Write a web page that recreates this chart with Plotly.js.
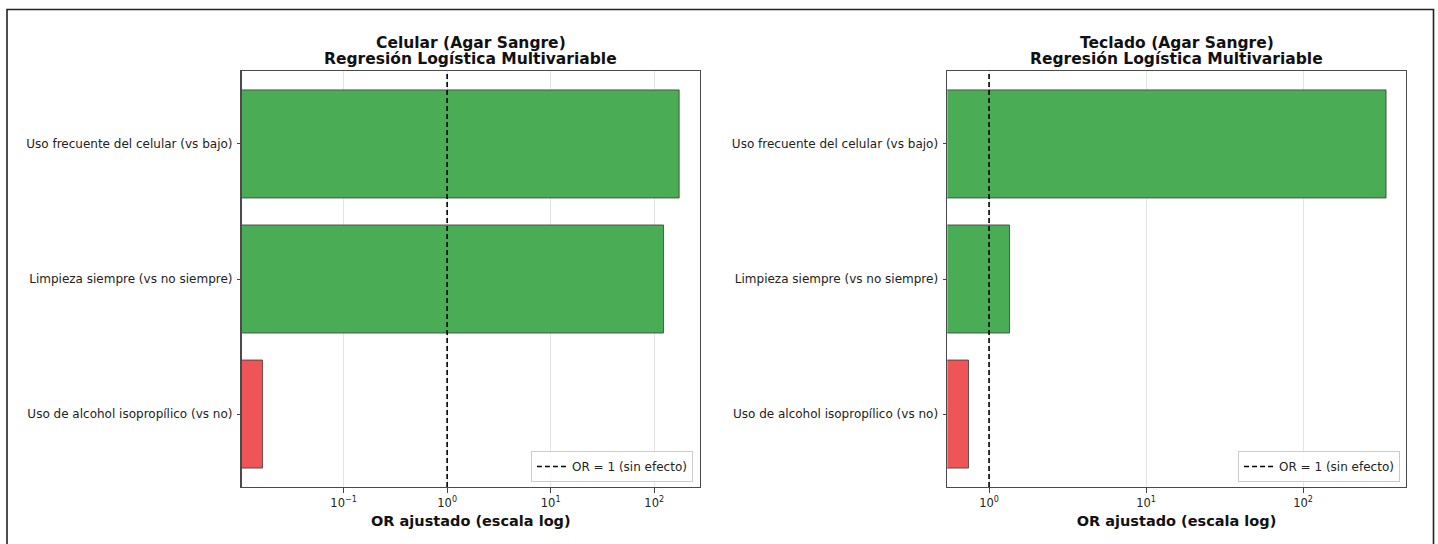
<!DOCTYPE html>
<html>
<head>
<meta charset="utf-8">
<script src="https://cdn.plot.ly/plotly-3.0.1.min.js"></script>
<style>
  html, body { margin: 0; padding: 0; background: #ffffff; }
  #chart { width: 1438px; height: 544px; }
</style>
</head>
<body>
<div id="chart"></div>
<script>
// Predictors of the multivariable logistic regression (top to bottom)
const factores = [
  'Uso frecuente del celular (vs bajo)',
  'Limpieza siempre (vs no siempre)',
  'Uso de alcohol isopropílico (vs no)'
];

// Adjusted odds ratios per surface
const orCelular = [174, 123, 0.0165];
const orTeclado = [338, 1.35, 0.74];

// Reference value: no effect
const orReferencia = 1;

const panelTitles = [
  ['Celular (Agar Sangre)', 'Regresión Logística Multivariable'],
  ['Teclado (Agar Sangre)', 'Regresión Logística Multivariable']
];
const xTitle = 'OR ajustado (escala log)';
const refLabel = 'OR = 1 (sin efecto)';

const tickValsLeft = [0.1, 1, 10, 100];
const tickTextLeft = ['10<sup>−1</sup>', '10<sup>0</sup>', '10<sup>1</sup>', '10<sup>2</sup>'];
const tickValsRight = [1, 10, 100];
const tickTextRight = ['10<sup>0</sup>', '10<sup>1</sup>', '10<sup>2</sup>'];

const GREEN = '#4bac56';
const RED = '#ef5456';
const colorFor = v => v >= orReferencia ? GREEN : RED;

const W = 1438, H = 544;
const px = x => x / W;
const py = y => 1 - y / H;

const FONT = 'DejaVu Sans, sans-serif';
const TXT = '#222222';

const leftRange = [-1.984, 2.442];
const rightRange = [-0.266, 2.654];

// minor log ticks: 2..9 times each decade
function minorLogTicks(fromExp, toExp) {
  const out = [];
  for (let e = fromExp; e <= toExp; e++) {
    for (let m = 2; m <= 9; m++) out.push(m * Math.pow(10, e));
  }
  return out;
}

function barTrace(values, xa, ya) {
  return {
    type: 'bar',
    orientation: 'h',
    y: factores,
    x: values,
    xaxis: xa,
    yaxis: ya,
    width: 0.8,
    marker: { color: values.map(colorFor), line: { color: '#3a3a3a', width: 0.8 } },
    showlegend: false,
    hoverinfo: 'x+y'
  };
}

function refTrace(xa, ya, legendId) {
  return {
    type: 'scatter',
    mode: 'lines',
    x: [orReferencia, orReferencia],
    y: [0, 1],
    xaxis: xa,
    yaxis: ya,
    name: refLabel,
    legend: legendId,
    line: { color: '#000000', width: 1.6, dash: '5px,3px' }
  };
}

const data = [
  barTrace(orCelular, 'x', 'y'),
  refTrace('x', 'y3', 'legend'),
  barTrace(orTeclado, 'x2', 'y2'),
  refTrace('x2', 'y4', 'legend2')
];

const yDomain = [py(487), py(71)];
const leftDom = [px(241.7), px(700)];
const rightDom = [px(947.3), px(1405.7)];

function xAxis(dom, range, tv, tt, anchor) {
  return {
    type: 'log',
    domain: dom,
    range: range,
    anchor: anchor,
    tickmode: 'array',
    tickvals: tv,
    ticktext: tt,
    ticks: 'outside',
    ticklen: 4.5,
    tickwidth: 1,
    tickcolor: '#444',
    showgrid: true,
    gridcolor: '#e4e4e4',
    gridwidth: 1,
    zeroline: false,
    showline: true,
    linecolor: '#4a4a4a',
    linewidth: 1.3,
    mirror: true,
    tickfont: { family: FONT, size: 11.5, color: TXT },
    title: { text: xTitle, font: { family: FONT, size: 14.5, color: '#111', weight: 'bold' }, standoff: 7 }
  };
}

// overlay axis that only carries the small unlabeled log ticks
function minorAxis(over, anchor, range) {
  return {
    type: 'log',
    overlaying: over,
    anchor: anchor,
    side: 'bottom',
    range: range,
    tickmode: 'array',
    tickvals: minorLogTicks(-3, 3),
    ticktext: minorLogTicks(-3, 3).map(() => ''),
    ticks: 'outside',
    ticklen: 2.5,
    tickwidth: 1,
    tickcolor: '#555',
    showgrid: false,
    zeroline: false,
    showline: false,
    showticklabels: false,
    fixedrange: true
  };
}

function yAxis(anchor) {
  return {
    type: 'category',
    domain: yDomain,
    anchor: anchor,
    categoryorder: 'array',
    categoryarray: factores,
    autorange: false,
    range: [2.54, -0.54],
    ticks: 'outside',
    ticklen: 3.5,
    tickwidth: 1,
    tickcolor: '#444',
    ticklabelstandoff: 2,
    showgrid: false,
    zeroline: false,
    showline: true,
    linecolor: '#4a4a4a',
    linewidth: 1.3,
    mirror: true,
    tickfont: { family: FONT, size: 12, color: TXT }
  };
}

function overlayAxis(over, anchor) {
  return {
    overlaying: over,
    anchor: anchor,
    range: [0, 1],
    visible: false,
    fixedrange: true
  };
}

function legendBox(xRightPx) {
  return {
    x: px(xRightPx),
    xanchor: 'right',
    y: py(482),
    yanchor: 'bottom',
    bgcolor: 'rgba(255,255,255,0.85)',
    bordercolor: '#cccccc',
    borderwidth: 1,
    font: { family: FONT, size: 12, color: TXT },
    itemwidth: 30,
    tracegroupgap: 0
  };
}

function titleLine(text, xCenterPx, yCenterPx) {
  return {
    text: text,
    xref: 'paper', yref: 'paper',
    x: px(xCenterPx), y: py(yCenterPx),
    xanchor: 'center', yanchor: 'middle',
    showarrow: false,
    font: { family: FONT, size: 15.5, color: '#111', weight: 'bold' }
  };
}

const layout = {
  width: W,
  height: H,
  margin: { l: 0, r: 0, t: 0, b: 0, pad: 0 },
  paper_bgcolor: '#ffffff',
  plot_bgcolor: '#ffffff',
  bargap: 0.2,
  xaxis: xAxis(leftDom, leftRange, tickValsLeft, tickTextLeft, 'y'),
  yaxis: yAxis('x'),
  xaxis2: xAxis(rightDom, rightRange, tickValsRight, tickTextRight, 'y2'),
  yaxis2: yAxis('x2'),
  xaxis3: minorAxis('x', 'y', leftRange),
  xaxis4: minorAxis('x2', 'y2', rightRange),
  yaxis3: overlayAxis('y', 'x'),
  yaxis4: overlayAxis('y2', 'x2'),
  legend: legendBox(693),
  legend2: legendBox(1400),
  annotations: [
    titleLine(panelTitles[0][0], 470.9, 42.7),
    titleLine(panelTitles[0][1], 470.9, 59.3),
    titleLine(panelTitles[1][0], 1176.5, 42.7),
    titleLine(panelTitles[1][1], 1176.5, 59.3)
  ],
  shapes: [
    {
      type: 'rect', xref: 'paper', yref: 'paper',
      x0: px(7), x1: px(1433.5), y0: -0.05, y1: py(9.5),
      line: { color: '#222', width: 1.6 },
      fillcolor: 'rgba(0,0,0,0)',
      layer: 'below'
    }
  ]
};

Plotly.newPlot('chart', data, layout, { staticPlot: true, displayModeBar: false });
</script>
</body>
</html>
